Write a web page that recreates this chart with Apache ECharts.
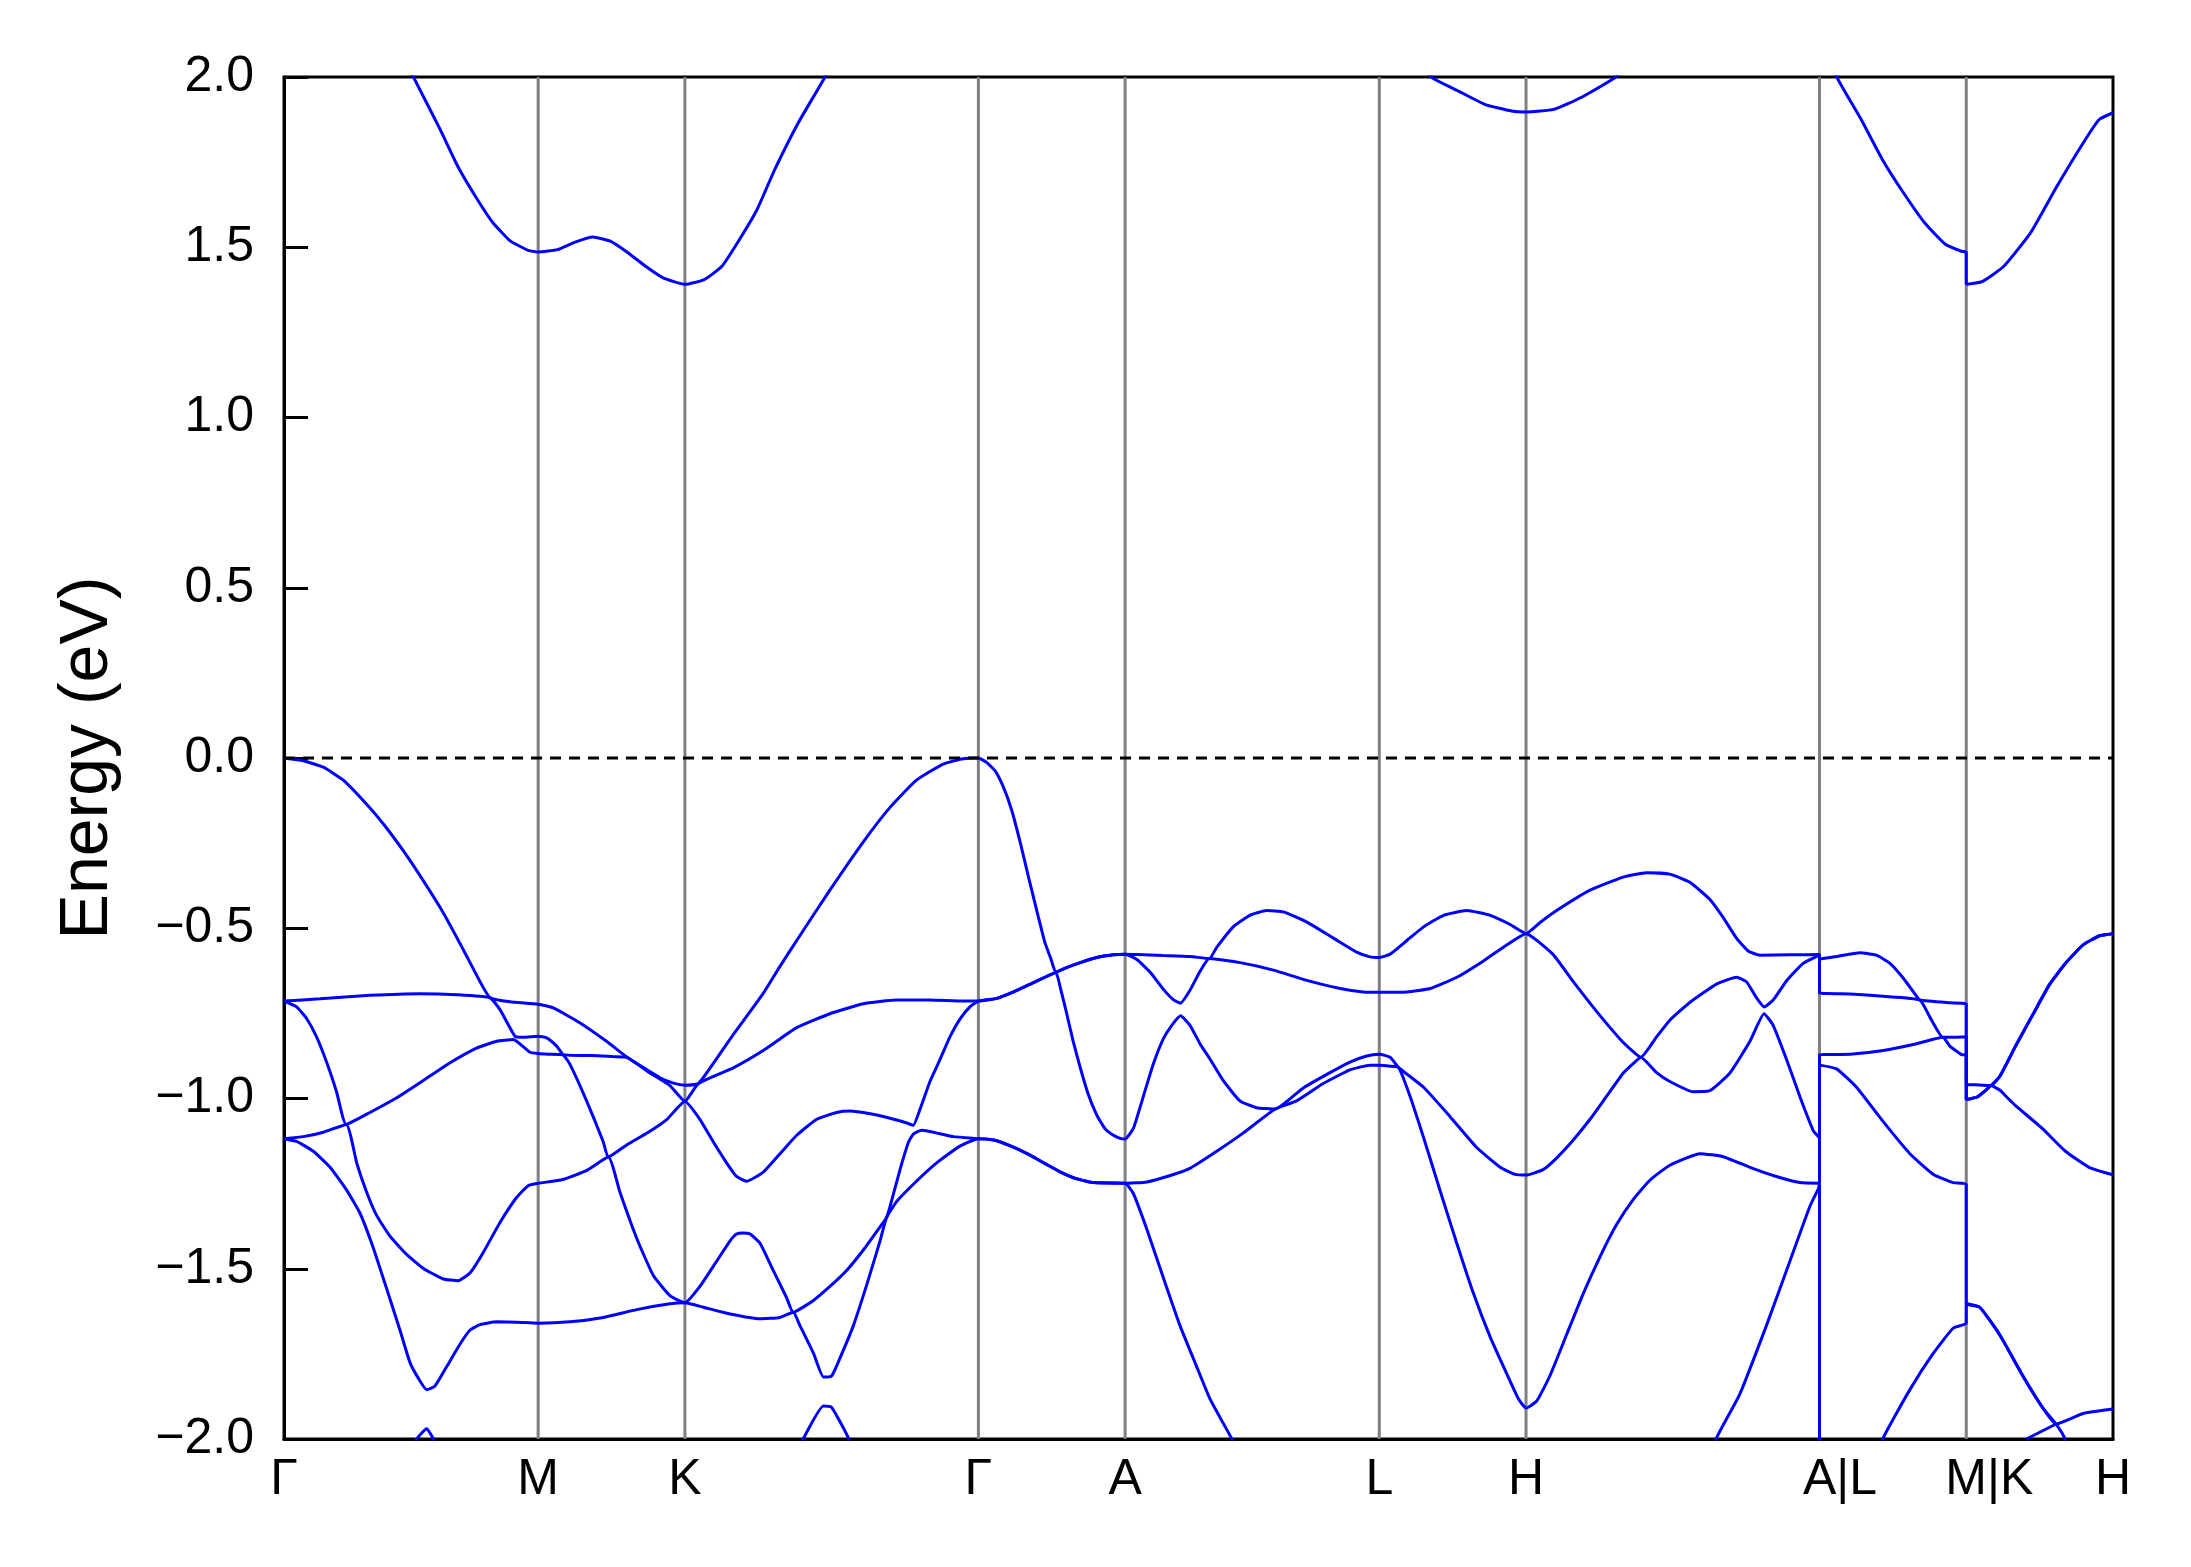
<!DOCTYPE html>
<html><head><meta charset="utf-8">
<script src="https://cdn.jsdelivr.net/npm/echarts@6/dist/echarts.min.js"></script>
<style>html,body{margin:0;padding:0;background:#fff}#c{width:2191px;height:1567px}</style>
</head><body><div id="c"></div>
<script>
// high-symmetry k-points (path distance) and their labels
const kTicks = [0, 0.866, 1.366, 2.366, 2.866, 3.732, 4.232, 5.232, 5.732, 6.232];
const kLabels = ['Γ', 'M', 'K', 'Γ', 'A', 'L', 'H', 'A|L', 'M|K', 'H'];
const yTickValues = [-2, -1.5, -1, -0.5, 0, 0.5, 1, 1.5, 2];
const yTickLabels = ['\u22122.0', '\u22121.5', '\u22121.0', '\u22120.5', '0.0', '0.5', '1.0', '1.5', '2.0'];
const fermiLevel = 0;

// bands as [k, E(eV)]; null = band leaves the visible window
const conduction = [
[0.40,2.07],[0.442,1.998],[0.532,1.846],[0.592,1.738],[0.652,1.650],[0.712,1.572],[0.772,1.518],[0.832,1.491],[0.866,1.486],
[0.932,1.493],[0.992,1.515],[1.052,1.530],[1.112,1.518],[1.172,1.484],[1.232,1.444],[1.292,1.410],[1.366,1.391],
[1.432,1.405],[1.492,1.444],[1.552,1.523],[1.612,1.611],[1.672,1.728],[1.752,1.865],[1.842,1.998],[1.87,2.05], null,
[3.88,2.03],[3.912,1.998],[4.003,1.958],[4.093,1.919],[4.183,1.900],[4.232,1.897],[4.327,1.905],[4.418,1.939],[4.535,1.998],[4.56,2.02], null,
[5.27,2.07],[5.292,1.998],[5.374,1.875],[5.446,1.758],[5.518,1.660],[5.590,1.572],[5.662,1.508],[5.716,1.488],[5.732,1.485],[5.732,1.391],[5.788,1.400],[5.860,1.444],[5.951,1.542],[6.041,1.679],[6.131,1.807],[6.185,1.875],[6.232,1.895]
];

const band1 = [
[0,0],[0.066,-0.008],[0.134,-0.027],[0.202,-0.065],[0.270,-0.125],[0.338,-0.193],[0.407,-0.273],[0.475,-0.361],[0.543,-0.455],[0.611,-0.563],[0.668,-0.657],[0.702,-0.704],[0.770,-0.716],[0.866,-0.723],
[0.918,-0.734],[1.009,-0.778],[1.099,-0.832],[1.168,-0.878],[1.213,-0.903],[1.281,-0.939],[1.327,-0.955],[1.366,-0.961],
[1.412,-0.956],[1.470,-0.888],[1.531,-0.812],[1.633,-0.691],[1.690,-0.612],[1.747,-0.536],[1.860,-0.388],[1.974,-0.246],[2.065,-0.145],[2.155,-0.065],[2.246,-0.018],[2.314,-0.002],[2.366,0],
[2.394,-0.013],[2.423,-0.038],[2.451,-0.085],[2.479,-0.152],[2.508,-0.246],[2.536,-0.347],[2.565,-0.448],[2.593,-0.543],[2.612,-0.587],[2.630,-0.630],[2.656,-0.619],[2.713,-0.601],[2.769,-0.586],[2.826,-0.578],[2.866,-0.576],
[2.906,-0.577],[2.996,-0.580],[3.087,-0.583],[3.153,-0.589],[3.178,-0.556],[3.235,-0.495],[3.291,-0.462],[3.348,-0.448],[3.405,-0.452],[3.485,-0.482],[3.576,-0.529],[3.655,-0.570],[3.700,-0.584],[3.732,-0.586],
[3.769,-0.576],[3.826,-0.536],[3.883,-0.496],[3.951,-0.462],[4.030,-0.448],[4.110,-0.462],[4.178,-0.489],[4.232,-0.516],
[4.280,-0.483],[4.336,-0.448],[4.450,-0.388],[4.563,-0.350],[4.643,-0.337],[4.722,-0.341],[4.790,-0.365],[4.858,-0.415],[4.904,-0.469],[4.949,-0.529],[4.989,-0.567],[5.029,-0.579],[5.131,-0.578],[5.232,-0.577],
[5.232,-0.590],[5.290,-0.583],[5.370,-0.572],[5.426,-0.579],[5.472,-0.603],[5.517,-0.646],[5.563,-0.700],[5.574,-0.711],[5.676,-0.719],[5.732,-0.722],
[5.732,-0.959],[5.775,-0.960],[5.816,-0.962],[5.847,-0.934],[5.900,-0.846],[5.960,-0.752],[6.016,-0.665],[6.073,-0.600],[6.130,-0.549],[6.186,-0.522],[6.232,-0.516]
];

const band2 = [
[0,-0.714],[0.123,-0.707],[0.293,-0.697],[0.463,-0.692],[0.588,-0.695],[0.702,-0.704],[0.736,-0.739],[0.787,-0.817],[0.816,-0.820],[0.866,-0.817],
[0.895,-0.822],[0.929,-0.846],[0.952,-0.871],[1.050,-0.874],[1.120,-0.877],[1.168,-0.879],[1.247,-0.925],[1.315,-0.962],[1.366,-1.008],
[1.412,-0.956],[1.531,-0.910],[1.633,-0.859],[1.690,-0.825],[1.747,-0.792],[1.860,-0.751],[1.974,-0.722],[2.087,-0.711],[2.201,-0.711],[2.314,-0.714],[2.366,-0.714],
[2.429,-0.706],[2.486,-0.687],[2.543,-0.664],[2.600,-0.641],[2.656,-0.619],[2.713,-0.601],[2.769,-0.586],[2.826,-0.578],[2.866,-0.576],
[2.906,-0.592],[2.952,-0.630],[2.998,-0.681],[3.032,-0.711],[3.055,-0.720],[3.087,-0.682],[3.121,-0.627],[3.153,-0.589],[3.258,-0.601],[3.371,-0.623],[3.485,-0.653],[3.599,-0.677],[3.678,-0.687],[3.732,-0.688],
[3.826,-0.687],[3.906,-0.677],[3.996,-0.644],[4.087,-0.596],[4.166,-0.549],[4.232,-0.516],
[4.323,-0.576],[4.393,-0.657],[4.473,-0.745],[4.552,-0.825],[4.598,-0.863],[4.623,-0.879],[4.677,-0.819],[4.722,-0.770],[4.790,-0.718],[4.881,-0.664],[4.949,-0.644],[4.983,-0.657],[5.017,-0.704],[5.043,-0.731],[5.074,-0.711],[5.120,-0.654],[5.176,-0.603],[5.222,-0.583],[5.232,-0.577],
[5.232,-0.690],[5.336,-0.693],[5.449,-0.700],[5.574,-0.711],[5.608,-0.761],[5.652,-0.820],[5.700,-0.820],[5.732,-0.819],
[5.732,-1.003],[5.770,-0.995],[5.801,-0.974],[5.847,-0.934],[5.900,-0.846],[5.960,-0.752],[6.016,-0.665],[6.073,-0.600],[6.130,-0.549],[6.186,-0.522],[6.232,-0.516]
];

const band3 = [
[0,-0.714],[0.043,-0.731],[0.077,-0.765],[0.111,-0.819],[0.145,-0.893],[0.179,-0.980],[0.212,-1.076],[0.293,-1.041],[0.384,-0.998],[0.475,-0.947],[0.566,-0.895],[0.656,-0.852],[0.725,-0.832],[0.781,-0.827],[0.838,-0.864],[0.866,-0.868],
[0.900,-0.870],[0.950,-0.872],[0.974,-0.899],[1.031,-1.007],[1.088,-1.128],[1.105,-1.172],[1.170,-1.135],[1.240,-1.100],[1.304,-1.062],[1.366,-1.008],
[1.417,-1.061],[1.463,-1.128],[1.508,-1.189],[1.542,-1.229],[1.577,-1.243],[1.633,-1.216],[1.690,-1.162],[1.747,-1.108],[1.815,-1.061],[1.883,-1.041],[1.929,-1.037],[1.997,-1.045],[2.065,-1.058],[2.122,-1.072],[2.144,-1.079],[2.167,-1.032],[2.201,-0.950],[2.235,-0.886],[2.269,-0.819],[2.303,-0.767],[2.337,-0.731],[2.366,-0.714],
[2.429,-0.706],[2.486,-0.687],[2.543,-0.664],[2.600,-0.641],[2.630,-0.630],[2.646,-0.677],[2.667,-0.751],[2.689,-0.832],[2.712,-0.906],[2.740,-0.987],[2.769,-1.048],[2.797,-1.088],[2.826,-1.108],[2.849,-1.117],[2.866,-1.119],
[2.894,-1.088],[2.928,-0.994],[2.962,-0.899],[2.996,-0.825],[3.025,-0.785],[3.055,-0.757],[3.087,-0.785],[3.121,-0.839],[3.155,-0.884],[3.200,-0.947],[3.257,-1.007],[3.314,-1.027],[3.377,-1.031],[3.473,-0.969],[3.564,-0.924],[3.632,-0.893],[3.689,-0.875],[3.732,-0.870],
[3.769,-0.879],[3.798,-0.909],[3.883,-0.967],[3.974,-1.054],[4.064,-1.144],[4.144,-1.202],[4.195,-1.223],[4.232,-1.225],
[4.290,-1.209],[4.336,-1.175],[4.393,-1.122],[4.450,-1.061],[4.506,-0.994],[4.563,-0.926],[4.598,-0.897],[4.623,-0.879],[4.677,-0.924],[4.722,-0.950],[4.801,-0.980],[4.858,-0.977],[4.926,-0.926],[4.995,-0.832],[5.043,-0.751],[5.074,-0.785],[5.120,-0.886],[5.165,-0.994],[5.211,-1.095],[5.232,-1.115],
[5.232,-0.871],[5.336,-0.870],[5.449,-0.859],[5.563,-0.839],[5.652,-0.820],[5.676,-0.846],[5.716,-0.871],[5.732,-0.872],
[5.732,-1.003],[5.770,-0.995],[5.801,-0.974],[5.816,-0.962],[5.847,-0.976],[5.869,-0.995],[5.900,-1.021],[5.991,-1.088],[6.070,-1.155],[6.150,-1.202],[6.232,-1.224]
];

const band4 = [
[0,-1.118],[0.066,-1.112],[0.134,-1.099],[0.212,-1.076],[0.248,-1.190],[0.282,-1.276],[0.316,-1.344],[0.361,-1.404],[0.418,-1.458],[0.475,-1.499],[0.543,-1.530],[0.594,-1.535],[0.634,-1.512],[0.679,-1.452],[0.736,-1.364],[0.793,-1.290],[0.832,-1.256],[0.866,-1.249],
[0.950,-1.238],[1.030,-1.212],[1.105,-1.172],[1.145,-1.276],[1.202,-1.411],[1.258,-1.519],[1.315,-1.579],[1.366,-1.600],
[1.417,-1.552],[1.474,-1.478],[1.520,-1.418],[1.542,-1.398],[1.565,-1.395],[1.588,-1.398],[1.622,-1.425],[1.667,-1.505],[1.713,-1.586],[1.735,-1.628],[1.804,-1.593],[1.860,-1.552],[1.917,-1.505],[1.974,-1.445],[2.031,-1.377],[2.053,-1.350],[2.065,-1.317],[2.099,-1.209],[2.128,-1.128],[2.145,-1.104],[2.173,-1.093],[2.280,-1.112],[2.366,-1.118],
[2.418,-1.122],[2.475,-1.139],[2.532,-1.162],[2.589,-1.189],[2.646,-1.216],[2.702,-1.236],[2.759,-1.247],[2.866,-1.249],
[2.940,-1.245],[3.020,-1.226],[3.087,-1.205],[3.178,-1.155],[3.269,-1.101],[3.377,-1.031],[3.450,-1.007],[3.541,-0.956],[3.632,-0.916],[3.700,-0.902],[3.732,-0.902],
[3.769,-0.905],[3.798,-0.909],[3.837,-0.994],[3.883,-1.115],[3.939,-1.270],[3.996,-1.425],[4.053,-1.573],[4.110,-1.701],[4.166,-1.808],[4.206,-1.882],[4.232,-1.909],
[4.268,-1.889],[4.313,-1.815],[4.370,-1.694],[4.427,-1.573],[4.484,-1.465],[4.540,-1.371],[4.597,-1.297],[4.654,-1.240],[4.722,-1.196],[4.825,-1.162],[4.904,-1.171],[4.995,-1.202],[5.085,-1.229],[5.165,-1.247],[5.232,-1.249],
[5.232,-0.902],[5.290,-0.913],[5.358,-0.967],[5.449,-1.068],[5.540,-1.162],[5.620,-1.223],[5.688,-1.247],[5.732,-1.252],
[5.732,-1.602],[5.778,-1.613],[5.846,-1.694],[5.925,-1.815],[5.993,-1.909],[6.038,-1.956],[6.130,-1.925],[6.232,-1.912]
];

const band5 = [
[0,-1.118],[0.043,-1.126],[0.100,-1.155],[0.157,-1.202],[0.214,-1.270],[0.259,-1.337],[0.304,-1.438],[0.350,-1.559],[0.395,-1.680],[0.429,-1.775],[0.458,-1.822],[0.486,-1.855],[0.514,-1.845],[0.554,-1.788],[0.600,-1.721],[0.634,-1.680],[0.668,-1.664],[0.725,-1.656],[0.793,-1.657],[0.866,-1.660],
[0.974,-1.656],[1.088,-1.643],[1.202,-1.620],[1.315,-1.603],[1.366,-1.600],
[1.429,-1.613],[1.520,-1.633],[1.622,-1.647],[1.690,-1.643],[1.735,-1.628],[1.758,-1.667],[1.804,-1.748],[1.838,-1.818],[1.866,-1.815],[1.895,-1.761],[1.940,-1.667],[1.986,-1.546],[2.031,-1.418],[2.053,-1.350],[2.087,-1.303],[2.161,-1.238],[2.224,-1.189],[2.303,-1.140],[2.366,-1.118],
[2.418,-1.122],[2.475,-1.139],[2.532,-1.162],[2.589,-1.189],[2.646,-1.216],[2.702,-1.236],[2.759,-1.247],[2.866,-1.249],
[2.894,-1.279],[2.940,-1.384],[2.996,-1.526],[3.053,-1.667],[3.110,-1.788],[3.155,-1.882],[3.230,-2.0],[3.26,-2.05], null,
[4.870,-2.05],[4.881,-1.997],[4.960,-1.869],[5.051,-1.667],[5.131,-1.478],[5.199,-1.317],[5.228,-1.265],[5.232,-1.252],[5.232,-2.1], null,
[5.440,-2.05],[5.449,-1.997],[5.540,-1.855],[5.620,-1.748],[5.688,-1.674],[5.732,-1.660],
[5.732,-1.602],[5.778,-1.613],[5.846,-1.694],[5.925,-1.815],[5.993,-1.909],[6.038,-1.956],[6.067,-1.997],[6.080,-2.05]
];

const band6 = [
[0.440,-2.03],[0.452,-2.0],[0.486,-1.970],[0.509,-2.0],[0.520,-2.03], null,
[1.760,-2.03],[1.769,-2.0],[1.838,-1.903],[1.866,-1.907],[1.923,-1.997],[1.930,-2.03], null,
[5.937,-2.0],[6.038,-1.956]
];

function segments(arr) {
  const out = []; let cur = [];
  for (const p of arr) {
    if (p === null) { if (cur.length) out.push(cur); cur = []; }
    else cur.push(p);
  }
  if (cur.length) out.push(cur);
  return out;
}

const font = "'Liberation Sans', Arial, sans-serif";
const labelSize = 50;

// compound labels (A|L, M|K) sit with their first letter on the tick line
const measureCtx = document.createElement('canvas').getContext('2d');
measureCtx.font = labelSize + "px " + font;
const richStyles = {};
const labelText = kLabels.map((lab, i) => {
  if (lab.indexOf('|') < 0) return lab;
  const pad = Math.round(measureCtx.measureText(lab).width - measureCtx.measureText(lab[0]).width);
  richStyles['p' + i] = {fontSize: labelSize, fontFamily: font, color: '#000', padding: [0, 0, 0, pad]};
  return '{p' + i + '|' + lab + '}';
});

const kMin = kTicks[0], kMax = kTicks[kTicks.length - 1];
const series = [];
// vertical lines at high-symmetry points
kTicks.slice(1, -1).forEach(k => {
  series.push({type: 'line', data: [[k, yTickValues[0]], [k, yTickValues[yTickValues.length - 1]]],
    symbol: 'none', silent: true, animation: false, lineStyle: {color: '#808080', width: 3}, z: 1});
});
[conduction, band1, band2, band3, band4, band5, band6].forEach(b => {
  segments(b).forEach(seg => series.push({
    type: 'line', data: seg, symbol: 'none', smooth: 0.15, clip: true, silent: true, animation: false,
    lineStyle: {color: '#0000ff', width: 3}, z: 3
  }));
});
// Fermi level
series.push({type: 'line', data: [[kMin, fermiLevel], [kMax, fermiLevel]], symbol: 'none', silent: true, animation: false,
  lineStyle: {color: '#000', width: 3, type: [11, 8]}, z: 4});

const chart = echarts.init(document.getElementById('c'), null, {renderer: 'canvas', width: 2191, height: 1567});
chart.setOption({
  animation: false,
  backgroundColor: '#fff',
  grid: {left: 284, right: 78, top: 77, bottom: 128, show: true, borderColor: '#000', borderWidth: 3, backgroundColor: 'transparent'},
  xAxis: {
    type: 'value', min: kMin, max: kMax,
    axisLine: {show: true, onZero: false, lineStyle: {color: '#000', width: 3}},
    axisTick: {show: false},
    splitLine: {show: false},
    axisLabel: {
      customValues: kTicks,
      formatter: v => { const i = kTicks.findIndex(t => Math.abs(t - v) < 1e-6); return i >= 0 ? labelText[i] : ''; },
      rich: richStyles,
      fontSize: labelSize, color: '#000', fontFamily: font, margin: 16
    }
  },
  yAxis: {
    type: 'value', min: yTickValues[0], max: yTickValues[yTickValues.length - 1], interval: 0.5,
    name: 'Energy (eV)', nameLocation: 'middle', nameGap: 162,
    nameTextStyle: {fontSize: 68, color: '#000', fontFamily: font},
    axisLine: {show: true, onZero: false, lineStyle: {color: '#000', width: 3}},
    axisTick: {show: true, inside: true, length: 24, lineStyle: {color: '#000', width: 3}},
    splitLine: {show: false},
    axisLabel: {
      formatter: v => { const i = yTickValues.findIndex(t => Math.abs(t - v) < 1e-6); return i >= 0 ? yTickLabels[i] : ''; },
      fontSize: labelSize, color: '#000', fontFamily: font, margin: 30
    }
  },
  series: series
});
</script>
</body></html>
